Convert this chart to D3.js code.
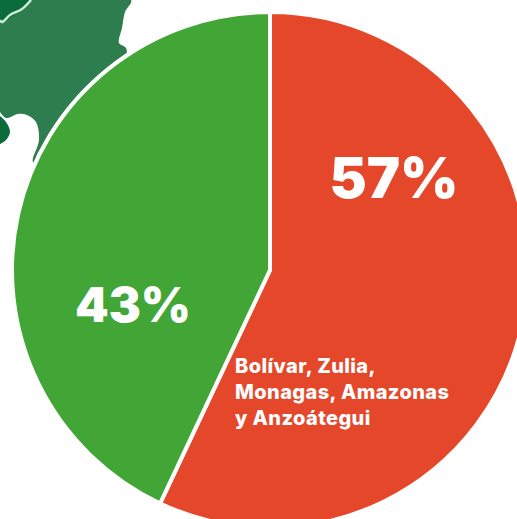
<!DOCTYPE html>
<html>
<head>
<meta charset="utf-8">
<script src="https://cdn.jsdelivr.net/npm/d3@7"></script>
<style>html,body{margin:0;padding:0;background:#fff;overflow:hidden}svg{display:block}text{font-family:Inter,"Open Sans",sans-serif;fill:#fff}</style>
</head>
<body>
<svg id="chart" width="517" height="519"></svg>
<script>
const categories = ["Bolívar, Zulia, Monagas, Amazonas y Anzoátegui", "Resto"];
const values = [57, 43];
const colors = ["#e5472a", "#41a636"];
const percentLabels = ["57%", "43%"];
const noteLines = ["Bolívar, Zulia,", "Monagas, Amazonas", "y Anzoátegui"];

const svg = d3.select("#chart");
const cx = 270, cy = 270, r = 258;

// decorative map fragment behind the pie
const line = d3.line().curve(d3.curveCatmullRom.alpha(0.5));
svg.append("path").attr("fill", "#2e7d4f").attr("d", line([
  [0,0],[131,0],[125,12],[122,28],[119,43],[126,48],[126,56],[100,90],[70,125],[42,165],[33,162],
  [39,140],[36,122],[27,115],[18,114],[6,118],[0,112]
]) + "Z");
svg.append("path").attr("fill", "#0b6b3a").attr("d", line([
  [0,0],[31,0],[22,9],[2,22],[0,21]
]) + "Z");
svg.append("path").attr("fill", "none").attr("stroke", "#c9ecd6").attr("stroke-width", 2.5)
  .attr("d", line([[31,0],[22,9],[10,15],[2,22],[0,20]]));
svg.append("path").attr("fill", "#0b6b3a").attr("d", line([
  [0,116],[6,122],[10,132],[6,140],[0,144]
]) + "Z");

const pie = d3.pie().sort(null).value(d => d);
const arc = d3.arc().innerRadius(0).outerRadius(r);
const g = svg.append("g").attr("transform", `translate(${cx},${cy})`);
g.selectAll("path").data(pie(values)).join("path")
  .attr("d", arc)
  .attr("fill", (d, i) => colors[i])
  .attr("stroke", "#fff").attr("stroke-width", 4).attr("stroke-linejoin", "miter");

svg.append("text").attr("x", 394).attr("y", 198).attr("text-anchor", "middle")
  .attr("font-size", 56).attr("font-weight", 900).text(percentLabels[0]);
svg.append("text").attr("x", 133).attr("y", 322).attr("text-anchor", "middle")
  .attr("font-size", 48).attr("font-weight", 900).text(percentLabels[1]);
svg.append("g").selectAll("text").data(noteLines).join("text")
  .attr("x", 235).attr("y", (d, i) => 373 + i * 26)
  .attr("font-size", 20).attr("font-weight", 800).attr("letter-spacing", 0.4).text(d => d);
</script>
</body>
</html>
